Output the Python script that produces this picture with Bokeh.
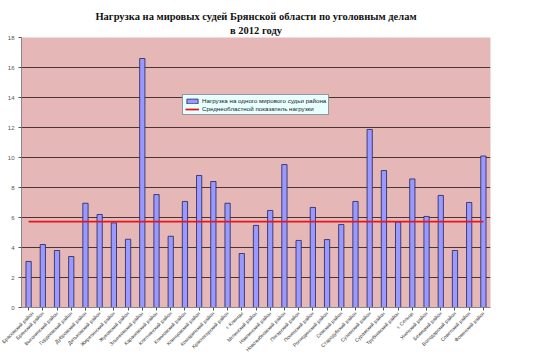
import math
from bokeh.plotting import figure
from bokeh.models import Title, Legend, LegendItem, FactorRange, SingleIntervalTicker
from bokeh.embed import file_html
from bokeh.resources import INLINE

title_line1 = "Нагрузка на мировых судей Брянской области по уголовным делам"
title_line2 = "в 2012 году"

districts = [
    "Брасовский район", "Брянский район", "Выгоничский район", "Гордеевский район",
    "Дубровский район", "Дятьковский район", "Жирятинский район", "Жуковский район",
    "Злынковский район", "Карачевский район", "Клетнянский район", "Климовский район",
    "Клинцовский район", "Комаричский район", "Красногорский район", "г. Клинцы",
    "Мглинский район", "Навлинский район", "Новозыбковский район", "Погарский район",
    "Почепский район", "Рогнединский район", "Севский район", "Стародубский район",
    "Суземский район", "Суражский район", "Трубчевский район", "г. Сельцо",
    "Унечский район", "Бежицкий район", "Володарский район", "Советский район",
    "Фокинский район",
]

load_per_judge = [
    3.07, 4.2, 3.8, 3.4, 6.95, 6.2, 5.64, 4.55, 16.6, 7.53, 4.75,
    7.07, 8.8, 8.4, 6.95, 3.6, 5.47, 6.47, 9.53, 4.47, 6.67, 4.53,
    5.53, 7.07, 11.87, 9.13, 5.7, 8.57, 6.07, 7.47, 3.8, 7.0, 10.1,
]

regional_average = 5.73
average_line = [regional_average for _ in districts]

series_labels = ["Нагрузка на одного мирового судьи района",
                 "Среднеобластной показатель нагрузки"]

p = figure(
    x_range=FactorRange(factors=districts, range_padding=0),
    y_range=(0, 18),
    frame_width=469, frame_height=270,
    min_border_left=21, min_border_right=32, min_border_top=0, min_border_bottom=5,
    output_backend="svg", toolbar_location=None,
    background_fill_color="#e5b8b7", border_fill_color="white",
)
p.outline_line_color = None

bars = p.vbar(x=districts, top=load_per_judge, width=0.37,
              fill_color="#9999ff", line_color="#22225a", line_width=0.8)
avg = p.line(x=districts, y=average_line, line_color="#e8141e", line_width=1.8)

p.yaxis.ticker = SingleIntervalTicker(interval=2)
p.yaxis.major_label_text_font = "Liberation Sans"
p.yaxis.major_label_text_font_size = "6px"
p.yaxis.major_label_text_color = "#555555"
p.yaxis.axis_line_color = "#888888"
p.yaxis.major_tick_line_color = "#555555"
p.yaxis.major_tick_out = 3
p.yaxis.major_tick_in = 0
p.yaxis.minor_tick_line_color = None
p.yaxis.major_label_standoff = 3

p.xaxis.major_label_orientation = math.pi / 4
p.xaxis.major_label_text_font = "Liberation Sans"
p.xaxis.major_label_text_font_size = "5px"
p.xaxis.major_label_text_color = "#333333"
p.xaxis.axis_line_color = "#888888"
p.xaxis.major_tick_line_color = "#555555"
p.xaxis.major_tick_out = 3
p.xaxis.major_tick_in = 0
p.xaxis.major_label_standoff = 2

p.xgrid.grid_line_color = None
p.ygrid.grid_line_color = "#4a3434"
p.ygrid.grid_line_width = 1

legend = Legend(items=[LegendItem(label=series_labels[0], renderers=[bars]),
                       LegendItem(label=series_labels[1], renderers=[avg])],
                location=(161, 192))
legend.background_fill_color = "#e8ffff"
legend.background_fill_alpha = 1
legend.border_line_color = "#333333"
legend.label_text_font = "Liberation Sans"
legend.label_text_font_size = "6.2px"
legend.label_text_color = "#222222"
legend.label_height = 7
legend.label_standoff = 3
legend.glyph_height = 6
legend.glyph_width = 14
legend.padding = 2
legend.spacing = 1
legend.margin = 0
p.add_layout(legend, "center")

p.add_layout(Title(text=title_line2, align="center", text_font="Liberation Serif",
                   text_font_size="10.5px", text_font_style="bold", text_color="#111111",
                   standoff=3, offset=0), "above")
p.add_layout(Title(text=title_line1, align="center", text_font="Liberation Serif",
                   text_font_size="10.5px", text_font_style="bold", text_color="#111111",
                   standoff=0, offset=0), "above")
p.add_layout(Title(text=" ", align="center", text_font="Liberation Serif",
                   text_font_size="6px", standoff=0, offset=0), "above")

open("out.html", "w").write(file_html(p, INLINE))
